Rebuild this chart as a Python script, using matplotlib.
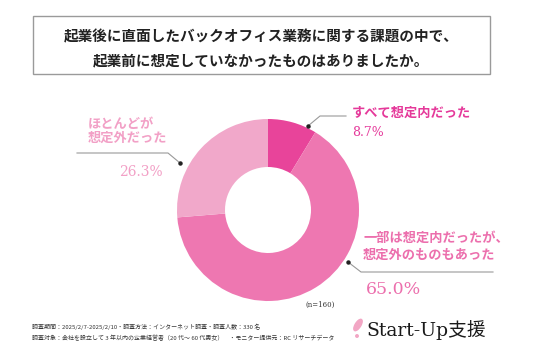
import numpy as np
import matplotlib.pyplot as plt
from matplotlib.patches import Rectangle, Ellipse

plt.rcParams['font.family'] = ['Noto Sans CJK JP', 'DejaVu Sans']

labels = ['すべて想定内だった', '一部は想定内だったが、\n想定外のものもあった', 'ほとんどが\n想定外だった']
values = [8.7, 65.0, 26.3]
colors = ['#E8449A', '#EE77B1', '#F1A8CA']
text_colors = ['#E5399A', '#EC6FAD', '#F2A0C6']

W, H = 536, 357
fig = plt.figure(figsize=(W / 100, H / 100), dpi=100)

def fx(px):
    return px / W

def fy(py):
    return 1 - py / H

# title box
fig.patches.append(Rectangle((fx(33), fy(74)), fx(490) - fx(33), fy(16) - fy(74),
                             transform=fig.transFigure, fill=False,
                             edgecolor='#9a9a9a', linewidth=1.0))
fig.text(fx(261), fy(36), '起業後に直面したバックオフィス業務に関する課題の中で、',
         ha='center', va='center', fontsize=10.5, fontweight='bold', color='#222222')
fig.text(fx(261), fy(60), '起業前に想定していなかったものはありましたか。',
         ha='center', va='center', fontsize=10.5, fontweight='bold', color='#222222')

# donut
cx, cy, R = 268, 210, 91
ax = fig.add_axes([fx(cx - R), fy(cy + R), 2 * R / W, 2 * R / H])
ax.pie(values, colors=colors, startangle=90, counterclock=False,
       wedgeprops=dict(width=48 / R, edgecolor='none'))
ax.set_xlim(-1, 1)
ax.set_ylim(-1, 1)
ax.axis('off')

def d(px, py):
    return (px - cx) / R, (cy - py) / R

def leader(pts, dot):
    xs, ys = zip(*[d(*p) for p in pts])
    ax.plot(xs, ys, color='#999999', lw=0.8, clip_on=False)
    ax.plot(*d(*dot), marker='o', ms=2.2, color='#222222', clip_on=False)

leader([(308, 126), (320, 116), (346, 116)], (308, 126))
leader([(348, 262), (361, 272), (493, 272)], (348, 262))
leader([(180, 163), (168, 153), (77, 153)], (180, 163))

# labels
fig.text(fx(352), fy(113), labels[0], ha='left', va='center', fontsize=9.5,
         fontweight='bold', color=text_colors[0])
fig.text(fx(352), fy(132), f'{values[0]}%', ha='left', va='center', fontsize=9,
         family='DejaVu Serif', color=text_colors[0])

fig.text(fx(363), fy(246), labels[1], ha='left', va='center', fontsize=9.5,
         fontweight='bold', color=text_colors[1], linespacing=1.25)
fig.text(fx(366), fy(290), f'{values[1]:.1f}%', ha='left', va='center', fontsize=12.5,
         family='DejaVu Serif', color=text_colors[1])

fig.text(fx(88), fy(131), labels[2], ha='left', va='center', fontsize=9.5,
         fontweight='bold', color=text_colors[2], linespacing=1.05)
fig.text(fx(119), fy(172), f'{values[2]}%', ha='left', va='center', fontsize=10,
         family='DejaVu Serif', color=text_colors[2])

fig.text(fx(305), fy(305), '(n=160)', ha='left', va='center', fontsize=5,
         family='DejaVu Serif', color='#333333')

# footer
fig.text(fx(32), fy(327), '調査期間：2025/2/7-2025/2/10・調査方法：インターネット調査・調査人数：330 名',
         ha='left', va='center', fontsize=4.3, color='#333333')
fig.text(fx(32), fy(338), '調査対象：会社を設立して 3 年以内の企業経営者（20 代～ 60 代男女）　・モニター提供元：RC リサーチデータ',
         ha='left', va='center', fontsize=4.3, color='#333333')

# logo
fig.patches.append(Ellipse((fx(358), fy(325)), 6 / W, 12 / H, angle=-20,
                           transform=fig.transFigure, color='#F2A6C4'))
fig.patches.append(Ellipse((fx(357), fy(336)), 2.5 / W, 2.5 / H,
                           transform=fig.transFigure, color='#F2A6C4'))
fig.text(fx(366), fy(330), 'Start-Up支援', ha='left', va='center', fontsize=13.5,
         family=['DejaVu Serif', 'Noto Sans CJK JP'], color='#1a1a1a')

fig.savefig('out.png', dpi=100, facecolor='white')
